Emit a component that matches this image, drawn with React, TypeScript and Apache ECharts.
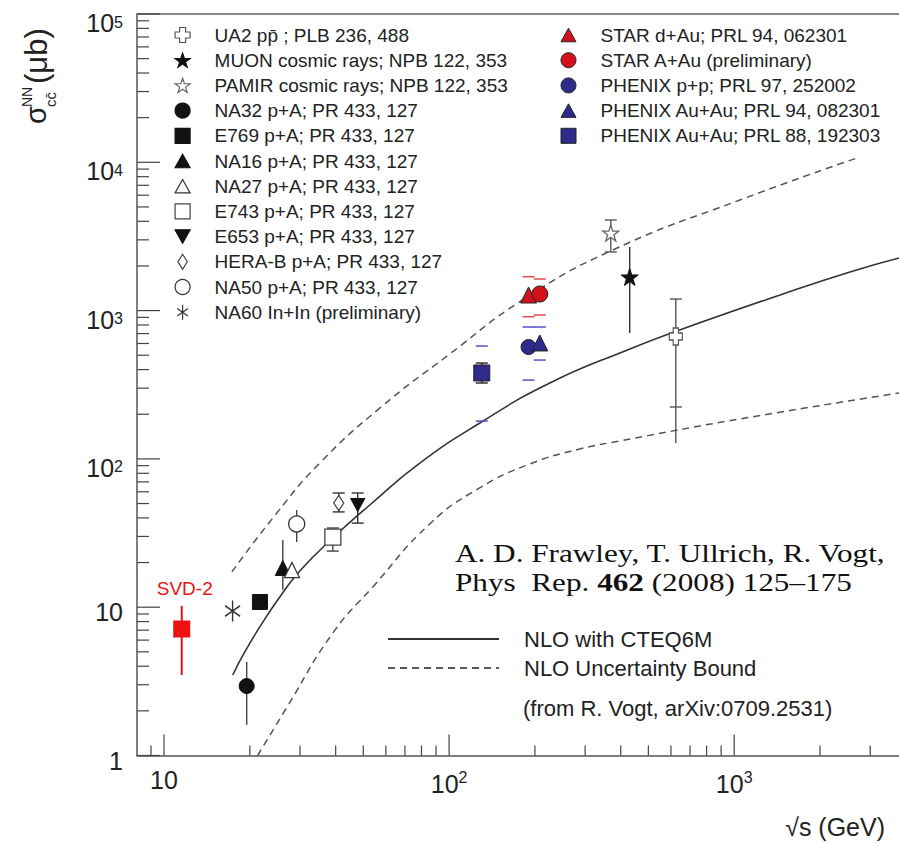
import React, { useEffect, useRef } from 'react';
import * as echarts from 'echarts';

// ---------- axis ranges ----------
const X_MIN = 8.04;
const X_MAX = 3785;
const Y_MIN = 1;
const Y_MAX = 100000;

// ---------- tick marks ----------
const xMajorTicks = [10, 100, 1000];
const xMinorTicks = [9, 20, 30, 40, 50, 60, 70, 80, 90, 200, 300, 400, 500, 600, 700, 800, 900, 2000, 3000];
const yMajorTicks = [1, 10, 100, 1000, 10000, 100000];
const yMinorTicks = [
  2, 3, 4, 5, 6, 7, 8, 9,
  20, 30, 40, 50, 60, 70, 80, 90,
  200, 300, 400, 500, 600, 700, 800, 900,
  2000, 3000, 4000, 5000, 6000, 7000, 8000, 9000,
  20000, 30000, 40000, 50000, 60000, 70000, 80000, 90000,
];

// ---------- experiments (legend order) ----------
const leftLegendNames = [
  'UA2 pp\u0304 ; PLB 236, 488',
  'MUON cosmic rays; NPB 122, 353',
  'PAMIR cosmic rays; NPB 122, 353',
  'NA32 p+A; PR 433, 127',
  'E769 p+A; PR 433, 127',
  'NA16 p+A; PR 433, 127',
  'NA27 p+A; PR 433, 127',
  'E743 p+A; PR 433, 127',
  'E653 p+A; PR 433, 127',
  'HERA-B p+A; PR 433, 127',
  'NA50 p+A; PR 433, 127',
  'NA60 In+In (preliminary)',
];
const rightLegendNames = [
  'STAR d+Au; PRL 94, 062301',
  'STAR A+Au (preliminary)',
  'PHENIX p+p; PRL 97, 252002',
  'PHENIX Au+Au; PRL 94, 082301',
  'PHENIX Au+Au; PRL 88, 192303',
];
const expNames = [...leftLegendNames, ...rightLegendNames];

// sqrt(s) in GeV
const expSqrtS = [624, 430, 369, 19.5, 21.7, 26.1, 28.1, 39.1, 47.8, 41.0, 29.2, 17.4, 190, 208, 190, 208, 130.2];
// sigma_cc in microbarn
const expSigma = [669, 1685, 3337, 2.94, 10.84, 18.4, 17.8, 29.7, 48.9, 50.4, 36.4, 9.43, 1274, 1294, 568, 605, 379.6];
// error bars (null = none drawn)
const expErrLow = [128, 706, 2485, 1.61, 9.9, 13.1, null, 23.9, 36.9, 43.9, 27.5, null, null, null, null, null, 325];
const expErrHigh = [1197, 2685, 4083, 4.27, 12.0, 28.4, null, 34.2, 58.9, 58.9, 45.2, null, null, null, null, null, 443];
// caps on error bars (0 = no cap)
const expCapLow = [224, 0, 2485, 0, 0, 0, 0, 23.9, 36.9, 43.9, 0, 0, 0, 0, 0, 0, 325];
const expCapHigh = [1197, 0, 4083, 0, 0, 0, 0, 34.2, 58.9, 58.9, 0, 0, 0, 0, 0, 0, 443];
// systematic bounds (short horizontal dashes)
const expSysLow = [null, null, null, null, null, null, null, null, null, null, null, null, 910, 934, 340, 464, 180];
const expSysHigh = [null, null, null, null, null, null, null, null, null, null, null, null, 1693, 1633, 775, 775, 577];

// SVD-2 point
const svdName = 'SVD-2';
const svdSqrtS = [11.54];
const svdSigma = [7.13];
const svdErrLow = [3.49];
const svdErrHigh = [10.2];

// ---------- NLO curves ----------
const nloCentral = [
  [17.42, 3.49], [19.2, 4.99], [21.67, 7.36], [25.47, 11.72], [29.94, 17.54], [39.08, 29.28],
  [52.68, 48.88], [78.92, 93.8], [128.2, 174.6], [225.6, 324.9], [430.5, 550.9], [629.5, 728.8],
  [1482, 1294], [2547, 1821], [3785, 2263],
];
const nloUpper = [
  [17.3, 17.3], [24.7, 42.5], [35.2, 93.8], [57.1, 220], [100.6, 510], [181, 1179],
  [375, 2563], [1047, 5570], [2695, 10690],
];
const nloLower = [
  [21.3, 1], [27.0, 2.12], [39.1, 6.7], [54.0, 13.7], [85.5, 36.4], [128, 63.7],
  [192, 92.4], [287, 116.6], [397, 132], [1047, 186], [3785, 278],
];

// ---------- styles ----------
const SANS = '"Liberation Sans", Arial, Helvetica, sans-serif';
const SERIF = '"Liberation Serif", "Times New Roman", serif';
const RED = '#d3111b';
const BLUE = '#2e2b8c';
const SVD_RED = '#ee1111';
const TEXT = '#222';

function starPath(): string {
  const pts: string[] = [];
  for (let i = 0; i < 10; i++) {
    const a = -Math.PI / 2 + (i * Math.PI) / 5;
    const r = i % 2 === 0 ? 10 : 3.9;
    pts.push(`${(10 + r * Math.cos(a)).toFixed(2)},${(10 + r * Math.sin(a)).toFixed(2)}`);
  }
  return 'path://M' + pts.join(' L') + ' Z';
}

const SYM = {
  cross: 'path://M3,0 L7,0 L7,3 L10,3 L10,7 L7,7 L7,10 L3,10 L3,7 L0,7 L0,3 L3,3 Z',
  star: starPath(),
  circle: 'circle',
  square: 'path://M0,0 L10,0 L10,10 L0,10 Z',
  triangle: 'path://M5,0 L10,9 L0,9 Z',
  triangleDown: 'path://M0,0 L10,0 L5,9 Z',
  diamond: 'path://M5,0 L10,8 L5,16 L0,8 Z',
  asterisk: 'path://M5,0 L5,14 M0,3.5 L10,10.5 M0,10.5 L10,3.5',
};

const expSymbol = [SYM.cross, SYM.star, SYM.star, SYM.circle, SYM.square, SYM.triangle, SYM.triangle, SYM.square,
  SYM.triangleDown, SYM.diamond, SYM.circle, SYM.asterisk, SYM.triangle, SYM.circle, SYM.circle, SYM.triangle, SYM.square];
const expSize: any[] = [[13, 17], 17, 16, 15, 15, 15, 15, 16, [14, 13], [10, 15], 16, [15, 21], 16, 16, 15, 16, 16];
const expFill = ['#fff', '#111', '#fff', '#111', '#111', '#111', '#fff', '#fff', '#111', '#fff', '#fff', 'transparent',
  RED, RED, BLUE, BLUE, BLUE];
const expStroke = ['#555', '#111', '#666', '#111', '#111', '#111', '#333', '#444', '#111', '#444', '#333', '#333',
  '#222', '#222', '#222', '#222', '#222'];
const expStrokeW = [1.3, 1, 1.3, 1, 1, 1, 1.3, 1.3, 1, 1.3, 1.3, 1.6, 1, 1, 1, 1, 1];
const expErrColor = ['#555', '#333', '#555', '#444', '#333', '#444', '#444', '#444', '#333', '#333', '#444', '#444',
  '#333', '#333', '#333', '#333', '#222'];
const expSysColor = ['', '', '', '', '', '', '', '', '', '', '', '', '#e04a4a', '#e04a4a', '#5550c0', '#5550c0', '#5550c0'];

function isPow10(v: number): number | null {
  const l = Math.log10(v);
  const r = Math.round(l);
  return Math.abs(l - r) < 1e-6 ? r : null;
}

function powLabel(v: number): string {
  const e = isPow10(v);
  if (e === null) return '';
  if (e === 0) return '{p|1}';
  if (e === 1) return '{p|10}';
  return `{b|10}{s|${e}}`;
}

const xLabelRich = {
  p: { fontSize: 25, fontFamily: SANS, color: TEXT, lineHeight: 20 },
  b: { fontSize: 25, fontFamily: SANS, color: TEXT, lineHeight: 28 },
  s: { fontSize: 16, fontFamily: SANS, color: TEXT, lineHeight: 16, verticalAlign: 'top' },
};
const yLabelRich = {
  p: { fontSize: 25, fontFamily: SANS, color: TEXT, lineHeight: 20 },
  b: { fontSize: 25, fontFamily: SANS, color: TEXT, lineHeight: 28, padding: [8, 0, 0, 0] },
  s: { fontSize: 16, fontFamily: SANS, color: TEXT, lineHeight: 16, verticalAlign: 'top', padding: [9, 0, 0, 0] },
};

export default function App() {
  const ref = useRef<HTMLDivElement>(null);

  useEffect(() => {
    if (!ref.current) return;
    const chart = echarts.init(ref.current, undefined, { renderer: 'svg' });

    const tickData = [
      ...xMajorTicks.map((v) => [v, Y_MIN, 1]),
      ...xMinorTicks.map((v) => [v, Y_MIN, 0]),
    ];
    const yTickData = [
      ...yMajorTicks.map((v) => [X_MIN, v, 1]),
      ...yMinorTicks.map((v) => [X_MIN, v, 0]),
    ];

    const errData: any[] = [];
    expNames.forEach((_, i) => {
      if (expErrLow[i] != null) {
        errData.push([expSqrtS[i], expErrLow[i], expErrHigh[i], expCapLow[i], expCapHigh[i], i]);
      }
    });
    const sysData: any[] = [];
    expNames.forEach((_, i) => {
      if (expSysLow[i] != null) {
        sysData.push([expSqrtS[i], expSysLow[i], expSysHigh[i], i]);
      }
    });

    const scatterSeries = expNames.map((name, i) => ({
      name,
      type: 'scatter',
      z: 6,
      data: [[expSqrtS[i], expSigma[i]]],
      symbol: expSymbol[i],
      symbolSize: expSize[i],
      itemStyle: {
        color: expFill[i],
        borderColor: expStroke[i],
        borderWidth: expStrokeW[i],
        opacity: 1,
      },
      emphasis: { disabled: true },
    }));

    const option: any = {
      animation: false,
      backgroundColor: '#fff',
      grid: { left: 137, right: 0, top: 14, bottom: 87.5, containLabel: false },
      xAxis: [
        {
          type: 'log',
          logBase: 10,
          min: X_MIN,
          max: X_MAX,
          axisLine: { show: true, lineStyle: { color: '#555', width: 1.5 } },
          axisTick: { show: false },
          minorTick: { show: false },
          splitLine: { show: false },
          axisLabel: {
            margin: 14,
            formatter: (v: number) => powLabel(v),
            rich: xLabelRich,
            showMinLabel: false,
            showMaxLabel: false,
          },
        },
        {
          type: 'log',
          logBase: 10,
          position: 'top',
          min: X_MIN,
          max: X_MAX,
          axisLine: { show: true, lineStyle: { color: '#888', width: 2 } },
          axisTick: { show: false },
          axisLabel: { show: false },
          splitLine: { show: false },
        },
      ],
      yAxis: {
        type: 'log',
        logBase: 10,
        min: Y_MIN,
        max: Y_MAX,
        axisLine: { show: true, lineStyle: { color: '#555', width: 1.5 } },
        axisTick: { show: false },
        splitLine: { show: false },
        axisLabel: {
          margin: 14,
          padding: [10, 0, 0, 0],
          formatter: (v: number) => powLabel(v),
          rich: yLabelRich,
        },
      },
      legend: [
        {
          data: leftLegendNames,
          orient: 'vertical',
          left: 174.5,
          top: 25,
          padding: 0,
          itemWidth: 15,
          itemHeight: 15,
          itemGap: 5.2,
          selectedMode: false,
          itemStyle: { borderWidth: 1.2 },
          textStyle: { fontSize: 19, fontFamily: SANS, color: TEXT, lineHeight: 20, padding: [0, 0, 0, 19.5] },
        },
        {
          data: rightLegendNames,
          orient: 'vertical',
          left: 560.5,
          top: 25,
          padding: 0,
          itemWidth: 15,
          itemHeight: 15,
          itemGap: 5.2,
          selectedMode: false,
          itemStyle: { borderWidth: 1 },
          textStyle: { fontSize: 19, fontFamily: SANS, color: TEXT, lineHeight: 20, padding: [0, 0, 0, 19.5] },
        },
        {
          data: ['NLO with CTEQ6M', 'NLO Uncertainty Bound'],
          orient: 'vertical',
          left: 387,
          top: 628,
          padding: 0,
          itemWidth: 111,
          itemHeight: 14,
          itemGap: 7,
          selectedMode: false,
          itemStyle: { opacity: 0 },
          textStyle: { fontSize: 22, fontFamily: SANS, color: TEXT, lineHeight: 22, padding: [0, 0, 0, 20] },
        },
      ],
      series: [
        {
          name: 'NLO with CTEQ6M',
          type: 'line',
          z: 3,
          data: nloCentral,
          smooth: 0.5,
          symbol: 'none',
          showSymbol: false,
          lineStyle: { color: '#333', width: 1.6, type: 'solid' },
          itemStyle: { color: '#333' },
          emphasis: { disabled: true },
        },
        {
          name: 'NLO Uncertainty Bound',
          type: 'line',
          z: 3,
          data: nloUpper,
          smooth: 0.5,
          symbol: 'none',
          showSymbol: false,
          lineStyle: { color: '#555', width: 1.5, type: [7, 5] },
          itemStyle: { color: '#555' },
          emphasis: { disabled: true },
        },
        {
          name: 'NLO Uncertainty Bound',
          type: 'line',
          z: 3,
          data: nloLower,
          smooth: 0.5,
          symbol: 'none',
          showSymbol: false,
          lineStyle: { color: '#555', width: 1.5, type: [7, 5] },
          itemStyle: { color: '#555' },
          emphasis: { disabled: true },
        },
        // x-axis ticks
        {
          type: 'custom',
          z: 4,
          silent: true,
          data: tickData,
          encode: { x: 0, y: 1 },
          renderItem: (params: any, api: any) => {
            const p = api.coord([api.value(0), api.value(1)]);
            const len = api.value(2) ? 21 : 10;
            return {
              type: 'line',
              shape: { x1: p[0], y1: p[1], x2: p[0], y2: p[1] - len },
              style: { stroke: '#444', lineWidth: 1.2 },
            };
          },
        },
        // y-axis ticks
        {
          type: 'custom',
          z: 4,
          silent: true,
          data: yTickData,
          encode: { x: 0, y: 1 },
          renderItem: (params: any, api: any) => {
            const p = api.coord([api.value(0), api.value(1)]);
            const len = api.value(2) ? 23 : 12;
            return {
              type: 'line',
              shape: { x1: p[0], y1: p[1], x2: p[0] + len, y2: p[1] },
              style: { stroke: '#444', lineWidth: 1.2 },
            };
          },
        },
        // error bars
        {
          type: 'custom',
          z: 5,
          silent: true,
          data: errData,
          encode: { x: 0, y: 1 },
          renderItem: (params: any, api: any) => {
            const x = api.value(0);
            const i = api.value(5);
            const lo = api.coord([x, api.value(1)]);
            const hi = api.coord([x, api.value(2)]);
            const style = { stroke: expErrColor[i], lineWidth: 1.4 };
            const children: any[] = [
              { type: 'line', shape: { x1: lo[0], y1: lo[1], x2: hi[0], y2: hi[1] }, style },
            ];
            [api.value(3), api.value(4)].forEach((c: number) => {
              if (c > 0) {
                const p = api.coord([x, c]);
                children.push({ type: 'line', shape: { x1: p[0] - 6, y1: p[1], x2: p[0] + 6, y2: p[1] }, style });
              }
            });
            return { type: 'group', children };
          },
        },
        // systematic dashes
        {
          type: 'custom',
          z: 5,
          silent: true,
          data: sysData,
          encode: { x: 0, y: 1 },
          renderItem: (params: any, api: any) => {
            const x = api.value(0);
            const i = api.value(3);
            const style = { stroke: expSysColor[i], lineWidth: 1.5 };
            const children: any[] = [];
            [api.value(1), api.value(2)].forEach((v: number) => {
              const p = api.coord([x, v]);
              children.push({ type: 'line', shape: { x1: p[0] - 6, y1: p[1], x2: p[0] + 6, y2: p[1] }, style });
            });
            return { type: 'group', children };
          },
        },
        // SVD-2 error bar
        {
          type: 'custom',
          z: 5,
          silent: true,
          data: svdSqrtS.map((x, k) => [x, svdErrLow[k], svdErrHigh[k]]),
          encode: { x: 0, y: 1 },
          renderItem: (params: any, api: any) => {
            const x = api.value(0);
            const lo = api.coord([x, api.value(1)]);
            const hi = api.coord([x, api.value(2)]);
            return {
              type: 'line',
              shape: { x1: lo[0], y1: lo[1], x2: hi[0], y2: hi[1] },
              style: { stroke: SVD_RED, lineWidth: 2 },
            };
          },
        },
        {
          name: svdName,
          type: 'scatter',
          z: 6,
          data: svdSqrtS.map((x, k) => [x, svdSigma[k]]),
          symbol: SYM.square,
          symbolSize: 17,
          itemStyle: { color: SVD_RED, opacity: 1 },
          label: {
            show: true,
            formatter: svdName,
            position: 'top',
            distance: 22,
            offset: [3, 0],
            color: SVD_RED,
            fontSize: 19,
            fontFamily: SANS,
          },
          emphasis: { disabled: true },
        },
        ...scatterSeries,
      ],
      graphic: [
        {
          type: 'group',
          x: 36,
          y: 124,
          rotation: Math.PI / 2,
          children: [
            { type: 'text', x: 0, y: 0, style: { text: '\u03c3', fontSize: 29, fontFamily: SANS, fill: TEXT, align: 'left', verticalAlign: 'middle' } },
            { type: 'text', x: 17, y: -9, style: { text: 'NN', fontSize: 14, fontFamily: SANS, fill: TEXT, align: 'left', verticalAlign: 'middle' } },
            { type: 'text', x: 17, y: 14, style: { text: 'cc\u0304', fontSize: 15, fontFamily: SANS, fill: TEXT, align: 'left', verticalAlign: 'middle' } },
            { type: 'text', x: 40, y: 0, style: { text: '(\u03bcb)', fontSize: 31, fontFamily: SANS, fill: TEXT, align: 'left', verticalAlign: 'middle' } },
          ],
        },
        {
          type: 'text',
          x: 885,
          y: 827,
          style: { text: '\u221as (GeV)', fontSize: 25, fontFamily: SANS, fill: TEXT, align: 'right', verticalAlign: 'middle' },
        },
        {
          type: 'text',
          x: 455,
          y: 553,
          scaleX: 1.2,
          style: { text: 'A. D. Frawley, T. Ullrich, R. Vogt,', fontSize: 26, fontFamily: SERIF, fill: '#111', align: 'left', verticalAlign: 'middle' },
        },
        {
          type: 'text',
          x: 455,
          y: 582,
          scaleX: 1.2,
          style: {
            text: 'Phys  Rep. {b|462} (2008) 125\u2013175',
            fontSize: 26,
            fontFamily: SERIF,
            fill: '#111',
            align: 'left',
            verticalAlign: 'middle',
            rich: { b: { fontSize: 26, fontFamily: SERIF, fontWeight: 'bold', fill: '#111' } },
          },
        },
        {
          type: 'text',
          x: 523,
          y: 708,
          style: { text: '(from R. Vogt, arXiv:0709.2531)', fontSize: 22, fontFamily: SANS, fill: TEXT, align: 'left', verticalAlign: 'middle' },
        },
      ],
    };

    chart.setOption(option);
    return () => chart.dispose();
  }, []);

  return (
    <div
      ref={ref}
      style={{ position: 'absolute', left: 0, top: 0, width: 899, height: 843, background: '#fff' }}
    />
  );
}
